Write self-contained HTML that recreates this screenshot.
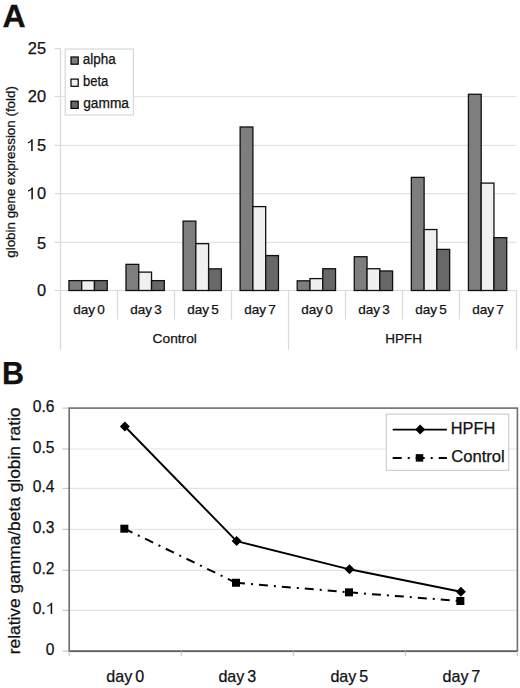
<!DOCTYPE html>
<html><head><meta charset="utf-8"><style>
html,body{margin:0;padding:0;background:#fff;width:520px;height:688px;overflow:hidden}
text{stroke:#111;stroke-width:0.25px;paint-order:stroke}
svg{display:block}
</style></head><body>
<svg width="520" height="688" viewBox="0 0 520 688" font-family='"Liberation Sans", sans-serif'>
<rect width="520" height="688" fill="#fff"/>
<text x="2.5" y="27" font-size="30.5" font-weight="bold" fill="#111" transform="translate(2.5,27) scale(1.05,1) translate(-2.5,-27)">A</text>
<line x1="60.5" y1="242.40" x2="516.5" y2="242.40" stroke="#e3e3e3" stroke-width="1.2"/>
<line x1="60.5" y1="193.60" x2="516.5" y2="193.60" stroke="#e3e3e3" stroke-width="1.2"/>
<line x1="60.5" y1="145.40" x2="516.5" y2="145.40" stroke="#e3e3e3" stroke-width="1.2"/>
<line x1="60.5" y1="96.50" x2="516.5" y2="96.50" stroke="#e3e3e3" stroke-width="1.2"/>
<line x1="54.6" y1="290.50" x2="60.5" y2="290.50" stroke="#d9d9d9" stroke-width="1.2"/>
<text x="46.1" y="296.00" font-size="16.4" text-anchor="end" fill="#111">0</text>
<line x1="54.6" y1="242.40" x2="60.5" y2="242.40" stroke="#d9d9d9" stroke-width="1.2"/>
<text x="46.1" y="248.60" font-size="16.4" text-anchor="end" fill="#111">5</text>
<line x1="54.6" y1="193.60" x2="60.5" y2="193.60" stroke="#d9d9d9" stroke-width="1.2"/>
<path d="M32.90,199.20 L32.90,187.46 L31.65,187.46 C31.10,188.76 29.80,189.76 28.00,190.36 L28.00,191.71 C29.20,191.36 30.50,190.66 31.35,189.76 L31.35,199.20 Z" fill="#111"/>
<text x="46.0" y="199.20" font-size="16.4" text-anchor="end" fill="#111">0</text>
<line x1="54.6" y1="145.40" x2="60.5" y2="145.40" stroke="#d9d9d9" stroke-width="1.2"/>
<path d="M32.70,151.00 L32.70,139.26 L31.45,139.26 C30.90,140.56 29.60,141.56 27.80,142.16 L27.80,143.51 C29.00,143.16 30.30,142.46 31.15,141.56 L31.15,151.00 Z" fill="#111"/>
<text x="46.0" y="151.00" font-size="16.4" text-anchor="end" fill="#111">5</text>
<line x1="54.6" y1="96.50" x2="60.5" y2="96.50" stroke="#d9d9d9" stroke-width="1.2"/>
<text x="46.1" y="102.00" font-size="16.4" text-anchor="end" fill="#111">20</text>
<line x1="54.6" y1="48.60" x2="60.5" y2="48.60" stroke="#d9d9d9" stroke-width="1.2"/>
<text x="46.1" y="54.00" font-size="16.4" text-anchor="end" fill="#111">25</text>
<line x1="60.5" y1="290.5" x2="516.5" y2="290.5" stroke="#d9d9d9" stroke-width="1.2"/>
<line x1="60.5" y1="48.60" x2="60.5" y2="349.8" stroke="#d9d9d9" stroke-width="1.2"/>
<line x1="117.50" y1="290.5" x2="117.50" y2="319.5" stroke="#d9d9d9" stroke-width="1.2"/>
<line x1="174.50" y1="290.5" x2="174.50" y2="319.5" stroke="#d9d9d9" stroke-width="1.2"/>
<line x1="231.50" y1="290.5" x2="231.50" y2="319.5" stroke="#d9d9d9" stroke-width="1.2"/>
<line x1="288.50" y1="290.5" x2="288.50" y2="349.8" stroke="#d9d9d9" stroke-width="1.2"/>
<line x1="345.50" y1="290.5" x2="345.50" y2="319.5" stroke="#d9d9d9" stroke-width="1.2"/>
<line x1="402.50" y1="290.5" x2="402.50" y2="319.5" stroke="#d9d9d9" stroke-width="1.2"/>
<line x1="459.50" y1="290.5" x2="459.50" y2="319.5" stroke="#d9d9d9" stroke-width="1.2"/>
<line x1="516.50" y1="290.5" x2="516.50" y2="349.8" stroke="#d9d9d9" stroke-width="1.2"/>
<rect x="68.93" y="280.63" width="12.77" height="9.87" fill="#7e7e7e" stroke="#111" stroke-width="1.3"/>
<rect x="81.70" y="280.63" width="12.77" height="9.87" fill="#f0f0f0" stroke="#111" stroke-width="1.3"/>
<rect x="94.47" y="280.63" width="12.77" height="9.87" fill="#686868" stroke="#111" stroke-width="1.3"/>
<rect x="126.00" y="264.37" width="12.77" height="26.13" fill="#7e7e7e" stroke="#111" stroke-width="1.3"/>
<rect x="138.77" y="272.12" width="12.77" height="18.38" fill="#f0f0f0" stroke="#111" stroke-width="1.3"/>
<rect x="151.54" y="280.63" width="12.77" height="9.87" fill="#686868" stroke="#111" stroke-width="1.3"/>
<rect x="183.07" y="221.12" width="12.77" height="69.38" fill="#7e7e7e" stroke="#111" stroke-width="1.3"/>
<rect x="195.84" y="243.67" width="12.77" height="46.83" fill="#f0f0f0" stroke="#111" stroke-width="1.3"/>
<rect x="208.61" y="268.83" width="12.77" height="21.67" fill="#686868" stroke="#111" stroke-width="1.3"/>
<rect x="240.14" y="126.98" width="12.77" height="163.52" fill="#7e7e7e" stroke="#111" stroke-width="1.3"/>
<rect x="252.91" y="206.61" width="12.77" height="83.89" fill="#f0f0f0" stroke="#111" stroke-width="1.3"/>
<rect x="265.68" y="255.57" width="12.77" height="34.93" fill="#686868" stroke="#111" stroke-width="1.3"/>
<rect x="297.21" y="280.82" width="12.77" height="9.68" fill="#7e7e7e" stroke="#111" stroke-width="1.3"/>
<rect x="309.98" y="278.60" width="12.77" height="11.90" fill="#f0f0f0" stroke="#111" stroke-width="1.3"/>
<rect x="322.75" y="268.73" width="12.77" height="21.77" fill="#686868" stroke="#111" stroke-width="1.3"/>
<rect x="354.28" y="256.73" width="12.77" height="33.77" fill="#7e7e7e" stroke="#111" stroke-width="1.3"/>
<rect x="367.05" y="268.73" width="12.77" height="21.77" fill="#f0f0f0" stroke="#111" stroke-width="1.3"/>
<rect x="379.82" y="270.95" width="12.77" height="19.55" fill="#686868" stroke="#111" stroke-width="1.3"/>
<rect x="411.35" y="177.39" width="12.77" height="113.11" fill="#7e7e7e" stroke="#111" stroke-width="1.3"/>
<rect x="424.12" y="229.54" width="12.77" height="60.96" fill="#f0f0f0" stroke="#111" stroke-width="1.3"/>
<rect x="436.89" y="249.38" width="12.77" height="41.12" fill="#686868" stroke="#111" stroke-width="1.3"/>
<rect x="468.42" y="94.27" width="12.77" height="196.23" fill="#7e7e7e" stroke="#111" stroke-width="1.3"/>
<rect x="481.19" y="183.10" width="12.77" height="107.40" fill="#f0f0f0" stroke="#111" stroke-width="1.3"/>
<rect x="493.96" y="237.67" width="12.77" height="52.83" fill="#686868" stroke="#111" stroke-width="1.3"/>
<text x="89.00" y="314.3" font-size="13.5" word-spacing="-1.5" text-anchor="middle" fill="#111">day 0</text>
<text x="146.00" y="314.3" font-size="13.5" word-spacing="-1.5" text-anchor="middle" fill="#111">day 3</text>
<text x="203.00" y="314.3" font-size="13.5" word-spacing="-1.5" text-anchor="middle" fill="#111">day 5</text>
<text x="260.00" y="314.3" font-size="13.5" word-spacing="-1.5" text-anchor="middle" fill="#111">day 7</text>
<text x="317.00" y="314.3" font-size="13.5" word-spacing="-1.5" text-anchor="middle" fill="#111">day 0</text>
<text x="374.00" y="314.3" font-size="13.5" word-spacing="-1.5" text-anchor="middle" fill="#111">day 3</text>
<text x="431.00" y="314.3" font-size="13.5" word-spacing="-1.5" text-anchor="middle" fill="#111">day 5</text>
<text x="488.00" y="314.3" font-size="13.5" word-spacing="-1.5" text-anchor="middle" fill="#111">day 7</text>
<text x="152.63" y="342.90" font-size="13.5" textLength="44.25" lengthAdjust="spacingAndGlyphs" fill="#111">Control</text>
<text x="385.22" y="342.90" font-size="13.5" textLength="36.67" lengthAdjust="spacingAndGlyphs" fill="#111">HPFH</text>
<text x="-257.74" y="14.90" font-size="13.4" textLength="171.64" lengthAdjust="spacingAndGlyphs" fill="#111" transform="rotate(-90)">globin gene expression (fold)</text>
<rect x="65.2" y="49" width="68.2" height="66" fill="#fff" stroke="#d8d8d8" stroke-width="1.2"/>
<rect x="71" y="57.00" width="7.2" height="7.2" fill="#7e7e7e" stroke="#000" stroke-width="1.2"/>
<text x="82.85" y="64.40" font-size="13.8" textLength="32.94" lengthAdjust="spacingAndGlyphs" fill="#111">alpha</text>
<rect x="71" y="79.10" width="7.2" height="7.2" fill="#f0f0f0" stroke="#000" stroke-width="1.2"/>
<text x="82.99" y="86.10" font-size="13.8" textLength="25.30" lengthAdjust="spacingAndGlyphs" fill="#111">beta</text>
<rect x="71" y="101.20" width="7.2" height="7.2" fill="#686868" stroke="#000" stroke-width="1.2"/>
<text x="83.24" y="107.60" font-size="13.8" textLength="45.74" lengthAdjust="spacingAndGlyphs" fill="#111">gamma</text>
<text x="2" y="384.2" font-size="30.5" font-weight="bold" fill="#111">B</text>
<line x1="69.2" y1="610.40" x2="517.4" y2="610.40" stroke="#e3e3e3" stroke-width="1.2"/>
<line x1="69.2" y1="570.30" x2="517.4" y2="570.30" stroke="#e3e3e3" stroke-width="1.2"/>
<line x1="69.2" y1="529.40" x2="517.4" y2="529.40" stroke="#e3e3e3" stroke-width="1.2"/>
<line x1="69.2" y1="488.40" x2="517.4" y2="488.40" stroke="#e3e3e3" stroke-width="1.2"/>
<line x1="69.2" y1="449.00" x2="517.4" y2="449.00" stroke="#e3e3e3" stroke-width="1.2"/>
<line x1="62.5" y1="651.10" x2="69.2" y2="651.10" stroke="#c8c8c8" stroke-width="1.2"/>
<text x="54.4" y="654.70" font-size="15.6" text-anchor="end" fill="#111">0</text>
<line x1="62.5" y1="610.40" x2="69.2" y2="610.40" stroke="#c8c8c8" stroke-width="1.2"/>
<text x="32.7" y="614.00" font-size="15.6" fill="#111">0.</text>
<path d="M52.20,614.00 L52.20,602.76 L50.95,602.76 C50.40,604.06 49.10,605.06 47.30,605.66 L47.30,607.01 C48.50,606.66 49.80,605.96 50.65,605.06 L50.65,614.00 Z" fill="#111"/>
<line x1="62.5" y1="570.30" x2="69.2" y2="570.30" stroke="#c8c8c8" stroke-width="1.2"/>
<text x="54.4" y="573.90" font-size="15.6" text-anchor="end" fill="#111">0.2</text>
<line x1="62.5" y1="529.40" x2="69.2" y2="529.40" stroke="#c8c8c8" stroke-width="1.2"/>
<text x="54.4" y="533.00" font-size="15.6" text-anchor="end" fill="#111">0.3</text>
<line x1="62.5" y1="488.40" x2="69.2" y2="488.40" stroke="#c8c8c8" stroke-width="1.2"/>
<text x="54.4" y="492.00" font-size="15.6" text-anchor="end" fill="#111">0.4</text>
<line x1="62.5" y1="449.00" x2="69.2" y2="449.00" stroke="#c8c8c8" stroke-width="1.2"/>
<text x="54.4" y="452.60" font-size="15.6" text-anchor="end" fill="#111">0.5</text>
<line x1="62.5" y1="408.10" x2="69.2" y2="408.10" stroke="#c8c8c8" stroke-width="1.2"/>
<text x="54.4" y="411.70" font-size="15.6" text-anchor="end" fill="#111">0.6</text>
<rect x="69.2" y="408.1" width="448.20" height="243.20" fill="none" stroke="#6e6e6e" stroke-width="1.6"/>
<line x1="69.2" y1="651.3" x2="517.4" y2="651.3" stroke="#585858" stroke-width="1.45"/>
<line x1="69.20" y1="651.3" x2="69.20" y2="656.3" stroke="#c8c8c8" stroke-width="1.2"/>
<line x1="181.25" y1="651.3" x2="181.25" y2="656.3" stroke="#c8c8c8" stroke-width="1.2"/>
<line x1="293.30" y1="651.3" x2="293.30" y2="656.3" stroke="#c8c8c8" stroke-width="1.2"/>
<line x1="405.35" y1="651.3" x2="405.35" y2="656.3" stroke="#c8c8c8" stroke-width="1.2"/>
<line x1="517.40" y1="651.3" x2="517.40" y2="656.3" stroke="#c8c8c8" stroke-width="1.2"/>
<text x="125.22" y="681.5" font-size="16.1" word-spacing="-1.6" text-anchor="middle" fill="#111">day 0</text>
<text x="237.27" y="681.5" font-size="16.1" word-spacing="-1.6" text-anchor="middle" fill="#111">day 3</text>
<text x="349.32" y="681.5" font-size="16.1" word-spacing="-1.6" text-anchor="middle" fill="#111">day 5</text>
<text x="461.38" y="681.5" font-size="16.1" word-spacing="-1.6" text-anchor="middle" fill="#111">day 7</text>
<text x="-654.22" y="20.10" font-size="17.4" textLength="246.73" lengthAdjust="spacingAndGlyphs" fill="#111" transform="rotate(-90)">relative gamma/beta globin ratio</text>
<line x1="124.35" y1="528.7" x2="236.0" y2="582.75" stroke="#000" stroke-width="2" stroke-dasharray="9,6,2,6"/>
<line x1="236.0" y1="582.75" x2="349.0" y2="592.35" stroke="#000" stroke-width="2" stroke-dasharray="9,6,2,6"/>
<line x1="349.0" y1="592.35" x2="460.35" y2="601.0" stroke="#000" stroke-width="2" stroke-dasharray="9,6,2,6"/>
<polyline points="124.9,426.5 236.6,541.1 349.5,569.3 460.9,591.7" fill="none" stroke="#000" stroke-width="1.9" stroke-linejoin="round"/>
<rect x="120.35" y="524.70" width="8" height="8" fill="#000"/>
<rect x="232.00" y="578.75" width="8" height="8" fill="#000"/>
<rect x="345.00" y="588.35" width="8" height="8" fill="#000"/>
<rect x="456.35" y="597.00" width="8" height="8" fill="#000"/>
<path d="M124.90,421.50 L129.90,426.50 L124.90,431.50 L119.90,426.50Z" fill="#000"/>
<path d="M236.60,536.10 L241.60,541.10 L236.60,546.10 L231.60,541.10Z" fill="#000"/>
<path d="M349.50,564.30 L354.50,569.30 L349.50,574.30 L344.50,569.30Z" fill="#000"/>
<path d="M460.90,586.70 L465.90,591.70 L460.90,596.70 L455.90,591.70Z" fill="#000"/>
<rect x="386.3" y="414.1" width="122.4" height="56.3" fill="#fff" stroke="#d0d0d0" stroke-width="1.2"/>
<line x1="392.7" y1="429.6" x2="446.9" y2="429.6" stroke="#000" stroke-width="1.9"/>
<path d="M420.20,424.60 L425.20,429.60 L420.20,434.60 L415.20,429.60Z" fill="#000"/>
<line x1="392.7" y1="457.9" x2="446.9" y2="457.9" stroke="#000" stroke-width="2" stroke-dasharray="9,6,2,6"/>
<rect x="415.75" y="454.15" width="7.5" height="7.5" fill="#000"/>
<text x="450.68" y="433.80" font-size="16.3" textLength="44.55" lengthAdjust="spacingAndGlyphs" fill="#111">HPFH</text>
<text x="451.19" y="462.00" font-size="16.3" textLength="53.53" lengthAdjust="spacingAndGlyphs" fill="#111">Control</text>
</svg>
</body></html>
